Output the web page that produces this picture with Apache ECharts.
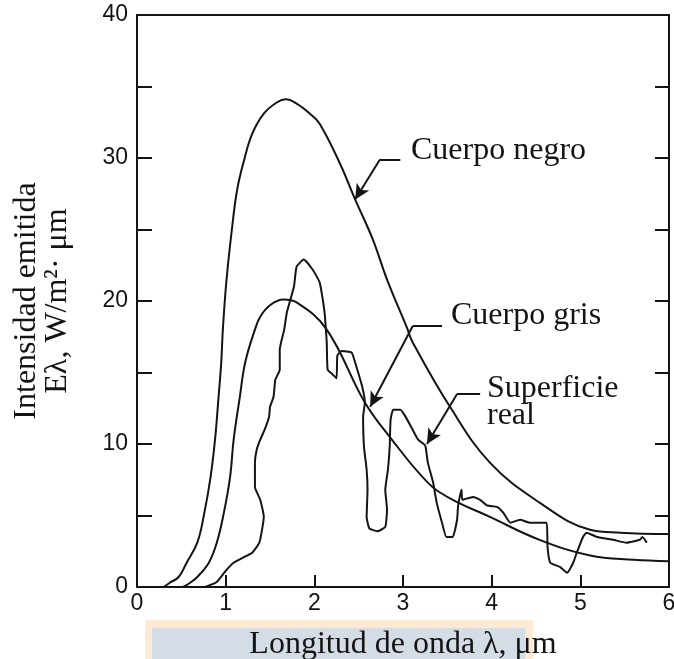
<!DOCTYPE html>
<html>
<head>
<meta charset="utf-8">
<script src="https://cdn.jsdelivr.net/npm/echarts@6/dist/echarts.min.js"></script>
<style>html,body{margin:0;padding:0;background:#fff;overflow:hidden;}#c{width:674px;height:659px;}</style>
</head>
<body>
<div id="c"></div>
<script>
// ---- data ----
const xTicks = [0, 1, 2, 3, 4, 5, 6];
const yTicks = [0, 10, 20, 30, 40];

const blackBody = [[0.30,0],[0.37,0.3],[0.47,0.7],[0.56,1.7],[0.68,3.1],[0.76,5.2],[0.83,7.7],[0.88,10.3],[0.92,13.3],[0.95,15.7],[0.97,18.2],[1.01,21.5],[1.07,25],[1.13,27.8],[1.21,29.9],[1.30,31.7],[1.43,33.1],[1.58,33.9],[1.68,34.1],[1.80,33.8],[1.95,33.1],[2.06,32.4],[2.29,29.6],[2.46,27.1],[2.66,24.3],[2.82,21.5],[3.04,18.2],[3.11,17.1],[3.53,12.6],[3.98,8.7],[4.54,5.9],[5.11,4.0],[5.45,3.8],[6.0,3.7]];

const grayBody = [[0.52,0],[0.6,0.3],[0.68,0.7],[0.81,1.7],[0.9,3.1],[0.98,5.2],[1.05,7.7],[1.09,10.3],[1.16,13.3],[1.22,15.7],[1.33,18],[1.39,18.9],[1.5,19.7],[1.65,20.1],[1.8,19.9],[2.14,18],[2.57,12.9],[2.85,10.5],[3.28,7.3],[3.53,6.2],[3.98,4.9],[4.54,3.3],[5.11,2.2],[5.6,1.9],[6.0,1.8]];

const realSurface = [[0.77,0],[0.9,0.35],[1.01,1.2],[1.09,1.7],[1.21,2.1],[1.3,2.4],[1.38,3.1],[1.41,4.0],[1.43,4.9],[1.39,6.1],[1.33,7.0],[1.33,8.7],[1.35,9.6],[1.39,10.3],[1.44,11.0],[1.49,11.9],[1.5,12.6],[1.54,13.3],[1.56,14.5],[1.61,15.2],[1.61,16.6],[1.66,18.0],[1.69,19.2],[1.77,21.0],[1.8,22.4],[1.88,22.9],[1.98,22.2],[2.06,21.3],[2.1,19.9],[2.12,18.9],[2.14,17.1],[2.15,15.2],[2.2,14.9],[2.25,14.6],[2.26,16.2],[2.31,16.5],[2.42,16.4],[2.46,15.7],[2.54,14.0],[2.57,12.9],[2.55,11.9],[2.56,9.8],[2.59,8.2],[2.6,6.8],[2.59,4.9],[2.62,4.1],[2.71,3.9],[2.8,4.2],[2.82,5.4],[2.8,6.8],[2.83,8.2],[2.85,9.8],[2.86,11.7],[2.89,12.4],[2.97,12.4],[3.02,12.0],[3.1,11.1],[3.17,10.3],[3.25,9.9],[3.28,8.7],[3.34,7.3],[3.38,5.9],[3.44,4.5],[3.49,3.5],[3.56,3.5],[3.61,4.7],[3.62,5.6],[3.64,6.3],[3.66,6.8],[3.67,6.1],[3.79,6.3],[3.87,6.1],[3.95,5.7],[4.06,5.6],[4.13,5.2],[4.21,4.5],[4.32,4.7],[4.43,4.5],[4.51,4.5],[4.62,4.5],[4.63,2.8],[4.66,1.7],[4.77,1.4],[4.85,1.0],[4.92,1.7],[4.96,2.4],[5.03,3.5],[5.07,3.8],[5.19,3.5],[5.37,3.3],[5.52,3.1],[5.67,3.3],[5.70,3.5],[5.75,3.1]];

// annotation leader lines (data coordinates): elbow start, elbow, arrow tip
const negroLeader = [[2.97,29.9],[2.74,29.9],[2.46,27.1]];
const grisLeader = [[3.44,18.25],[3.11,18.25],[2.63,12.6]];
const realLeader = [[3.87,13.5],[3.61,13.5],[3.27,10.0]];

const labelNegro = 'Cuerpo negro';
const labelGris = 'Cuerpo gris';
const labelReal = 'Superficie\nreal';
const xName = 'Longitud de onda λ, μm';
const yName = 'Intensidad emitida\nEλ, W/m²· μm';

// ---- chart ----
const INK = '#141414';
const SERIF = '"Liberation Serif","Times New Roman",serif';
const SANS = '"Liberation Sans",Arial,sans-serif';

function leaderLines(pts) {
  return [
    [{coord: pts[0], symbol: 'none'}, {coord: pts[1], symbol: 'none'}],
    [{coord: pts[1], symbol: 'none'}, {coord: pts[2], symbol: 'arrow', symbolSize: [11, 15]}]
  ];
}

const chart = echarts.init(document.getElementById('c'), null, {renderer: 'canvas'});
const lineStyle = {color: INK, width: 2};

chart.setOption({
  backgroundColor: '#ffffff',
  animation: false,
  grid: {left: 137, right: 5, top: 15, bottom: 72, containLabel: false, outerBoundsMode: 'none'},
  xAxis: [{
    type: 'value', min: 0, max: 6, interval: 1, position: 'bottom',
    axisLine: {show: true, onZero: false, lineStyle: {color: INK, width: 2}},
    axisTick: {show: true, inside: true, length: 12, lineStyle: {color: INK, width: 2}},
    axisLabel: {show: true, fontSize: 23, color: INK, fontFamily: SANS, margin: 5,
      formatter: v => xTicks.includes(v) ? String(v) : ''},
    splitLine: {show: false},
    name: xName, nameLocation: 'middle', nameGap: 42,
    nameTextStyle: {fontFamily: SERIF, fontSize: 32, color: INK}
  }, {
    type: 'value', min: 0, max: 6, interval: 1, position: 'top',
    axisLine: {show: true, onZero: false, lineStyle: {color: INK, width: 2}},
    axisTick: {show: false}, axisLabel: {show: false}, splitLine: {show: false}
  }],
  yAxis: [{
    type: 'value', min: 0, max: 40, interval: 5, position: 'left',
    axisLine: {show: true, onZero: false, lineStyle: {color: INK, width: 2}},
    axisTick: {show: true, inside: true, length: 15, lineStyle: {color: INK, width: 2}},
    axisLabel: {show: true, fontSize: 23, color: INK, fontFamily: SANS, margin: 9,
      formatter: v => yTicks.includes(v) ? String(v) : ''},
    splitLine: {show: false},
    name: yName, nameLocation: 'middle', nameRotate: 90, nameGap: 64,
    nameTextStyle: {fontFamily: SERIF, fontSize: 32, lineHeight: 31, color: INK, align: 'center'}
  }, {
    type: 'value', min: 0, max: 40, interval: 5, position: 'right',
    axisLine: {show: true, onZero: false, lineStyle: {color: INK, width: 2}},
    axisTick: {show: true, inside: true, length: 14, lineStyle: {color: INK, width: 2}},
    axisLabel: {show: false}, splitLine: {show: false}
  }],
  graphic: [
    {type: 'rect', z: -10, shape: {x: 145, y: 620, width: 388, height: 45}, style: {fill: '#fde9d4'}},
    {type: 'rect', z: -9, shape: {x: 152, y: 628, width: 373, height: 40}, style: {fill: '#d4dce6'}},
    {type: 'text', left: 411, top: 135, style: {text: labelNegro, font: '32px ' + SERIF, fill: INK}},
    {type: 'text', left: 451, top: 300, style: {text: labelGris, font: '32px ' + SERIF, fill: INK}},
    {type: 'text', left: 487, top: 373, style: {text: labelReal, font: '32px ' + SERIF, fill: INK, lineHeight: 27}}
  ],
  series: [{
    name: 'Cuerpo negro', type: 'line', data: blackBody, smooth: 0.4, showSymbol: false,
    lineStyle: lineStyle, silent: true,
    markLine: {silent: true, animation: false, label: {show: false},
      lineStyle: {color: INK, width: 2, type: 'solid'}, data: leaderLines(negroLeader)}
  }, {
    name: 'Cuerpo gris', type: 'line', data: grayBody, smooth: 0.4, showSymbol: false,
    lineStyle: lineStyle, silent: true,
    markLine: {silent: true, animation: false, label: {show: false},
      lineStyle: {color: INK, width: 2, type: 'solid'}, data: leaderLines(grisLeader)}
  }, {
    name: 'Superficie real', type: 'line', data: realSurface, smooth: 0.15, showSymbol: false,
    lineStyle: lineStyle, silent: true,
    markLine: {silent: true, animation: false, label: {show: false},
      lineStyle: {color: INK, width: 2, type: 'solid'}, data: leaderLines(realLeader)}
  }]
});
</script>
</body>
</html>
